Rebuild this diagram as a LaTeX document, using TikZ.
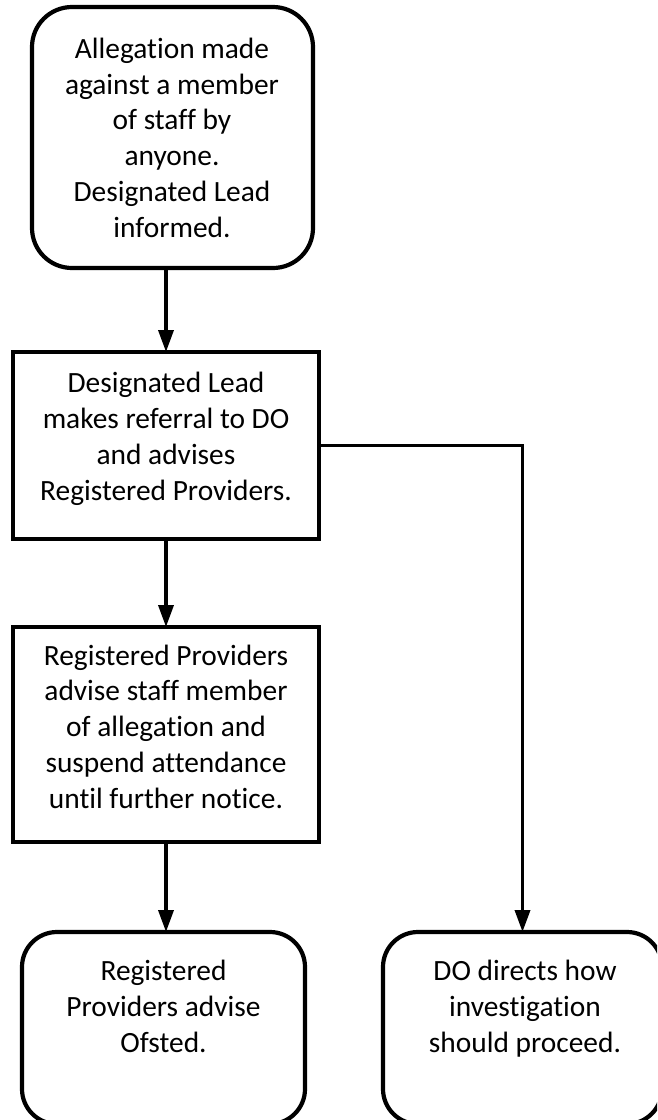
\documentclass[tikz,border=0pt]{standalone}
\usepackage{fontspec}
\setmainfont{Carlito}[Ligatures=NoCommon]
\usetikzlibrary{arrows.meta}
\begin{document}
\begin{tikzpicture}[x=1pt,y=-1pt,
  boxline/.style={draw=black,line width=4.2pt,inner sep=0pt,outer sep=0pt},
  sqbox/.style={boxline},
  rbox/.style={boxline,rounded corners=35pt},
  txt/.style={align=center,inner sep=0pt,anchor=base,font=\fontsize{29.4}{35.7}\selectfont},
  conn/.style={line width=3.6pt,-{Triangle[length=22pt,width=15pt]}}
]
\useasboundingbox (0,0) rectangle (657,1120);
\clip (0,0) rectangle (657,1120);
\fill[white] (0,0) rectangle (657,1120);
% boxes
\node[boxline,rounded corners=40pt,minimum width=281pt,minimum height=261pt] (b1) at (172.5,137.5) {};
\node[sqbox,minimum width=306pt,minimum height=187pt] (b2) at (166,445.5) {};
\node[sqbox,minimum width=306pt,minimum height=215pt] (b3) at (166,734.5) {};
\node[rbox,minimum width=283pt,minimum height=192pt] (b4) at (163.5,1028) {};
\node[rbox,minimum width=279pt,minimum height=192pt] (b5) at (522.5,1028) {};
% texts (anchored at the baseline of the last line)
\node[txt] (t1) at (172,237) {Allegation made\\against a member\\of staff by\\anyone.\\Designated Lead\\informed.};
\node[txt] (t2) at (166,500) {Designated Lead\\makes referral to DO\\and advises\\Registered Providers.};
\node[txt] (t3) at (166,808) {Registered Providers\\advise staff member\\of allegation and\\suspend attendance\\until further notice.};
\node[txt] (t4) at (163.5,1052) {Registered\\Providers advise\\Ofsted.};
\node[txt] (t5) at (525,1052) {DO directs how\\investigation\\should proceed.};
% connectors
\draw[conn] (b1.south -| b2.north) -- (b2.north);
\draw[conn] (b2.south) -- (b3.north);
\draw[conn] (b3.south) -- (b3.south |- b4.north);
\draw[conn] (b2.east) -| (b5.north);
\end{tikzpicture}
\end{document}
